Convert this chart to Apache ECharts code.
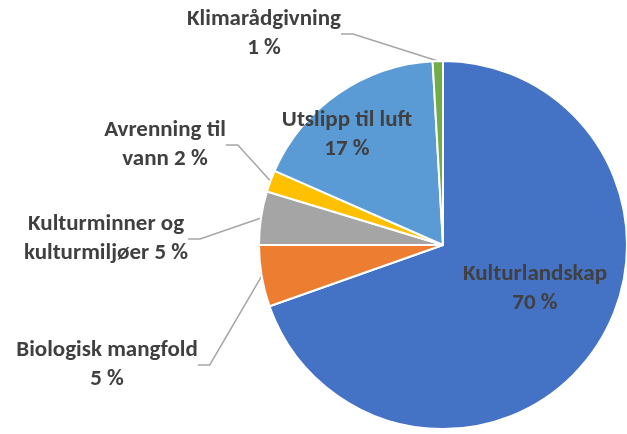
<!DOCTYPE html>
<html>
<head>
<meta charset="utf-8">
<script src="https://cdn.jsdelivr.net/npm/echarts@6/dist/echarts.min.js"></script>
<style>
  html, body { margin: 0; padding: 0; background: #ffffff; }
  #chart { width: 627px; height: 434px; }
</style>
</head>
<body>
<div id="chart"></div>
<script>
// Data
var categories = ['Kulturlandskap', 'Biologisk mangfold', 'Kulturminner og kulturmiljøer', 'Avrenning til vann', 'Utslipp til luft', 'Klimarådgivning'];
var values = [69.6, 5.4, 4.7, 1.9, 17.5, 0.9];
var labelTexts = [
  'Kulturlandskap\n70 %',
  'Biologisk mangfold\n5 %',
  'Kulturminner og\nkulturmiljøer 5 %',
  'Avrenning til\nvann 2 %',
  'Utslipp til luft\n17 %',
  'Klimarådgivning\n1 %'
];
var insideLabel = [true, false, false, false, true, false];

// Layout / style (kept apart from data)
var colors = ['#4472C4', '#ED7D31', '#A5A5A5', '#FFC000', '#5B9BD5', '#70AD47'];
var labelPos = [[535, 289], [107, 365], [106, 239], [165, 145], [347, 135], [264, 34]];

var chart = echarts.init(document.getElementById('chart'), null, { renderer: 'canvas' });

var data = categories.map(function (c, i) {
  return {
    name: c,
    value: values[i],
    itemStyle: { color: colors[i] },
    label: { position: insideLabel[i] ? 'inside' : 'outside' },
    labelLine: { show: !insideLabel[i] }
  };
});

chart.setOption({
  animation: false,
  series: [{
    type: 'pie',
    center: [443, 245],
    radius: 184,
    startAngle: 90,
    clockwise: true,
    avoidLabelOverlap: false,
    data: data,
    itemStyle: { borderColor: '#ffffff', borderWidth: 2 },
    label: {
      show: true,
      formatter: function (p) { return labelTexts[p.dataIndex]; },
      fontFamily: 'Carlito, Lato, sans-serif',
      fontWeight: 'bold',
      fontSize: 23,
      lineHeight: 29,
      color: '#404040',
      align: 'center'
    },
    labelLine: {
      show: true,
      length: 10,
      length2: 12,
      lineStyle: { color: '#A6A6A6', width: 1.5 }
    },
    labelLayout: function (params) {
      var p = labelPos[params.dataIndex];
      return { x: p[0], y: p[1], align: 'center', verticalAlign: 'middle' };
    },
    emphasis: { disabled: true }
  }]
});
</script>
</body>
</html>
